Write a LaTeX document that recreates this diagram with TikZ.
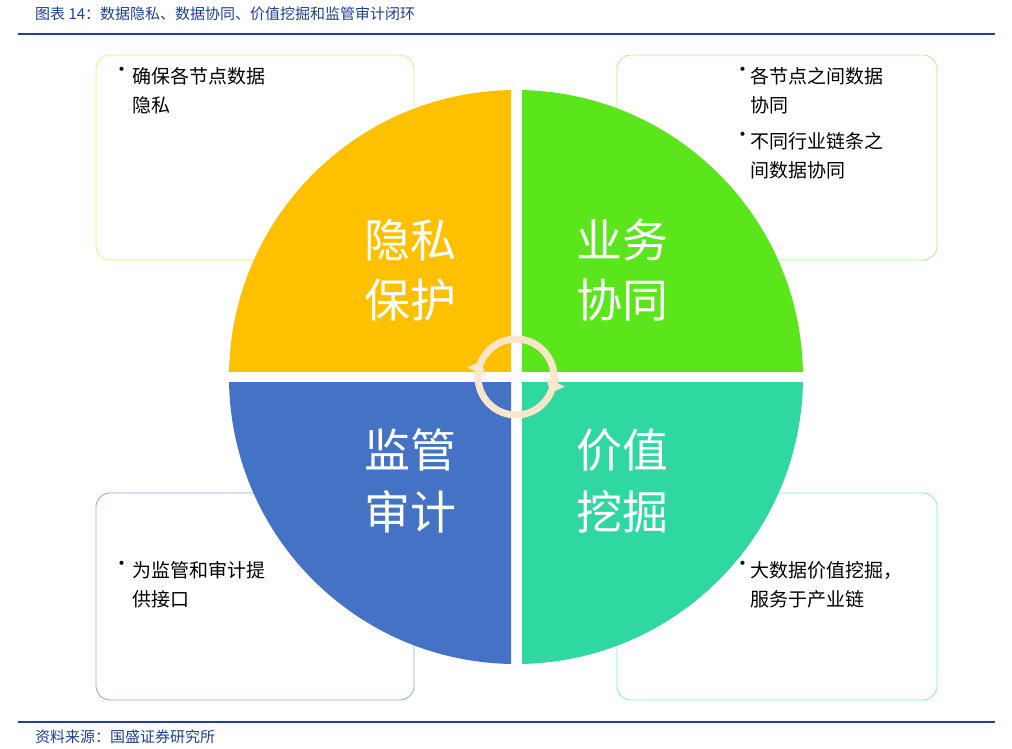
\documentclass[tikz,border=0pt]{standalone}
\usepackage{fontspec}
\setmainfont{Noto Sans CJK SC}
\newfontfamily\slfont[AutoFakeSlant=0.2]{Noto Sans CJK SC}
\usetikzlibrary{arrows.meta,calc}
\definecolor{qy}{HTML}{FFC000}
\definecolor{qg}{HTML}{5BE61C}
\definecolor{qb}{HTML}{4472C4}
\definecolor{qt}{HTML}{2ED8A0}
\definecolor{hd}{HTML}{1F3F8F}
\definecolor{ar}{HTML}{FBE5CB}
\tikzset{
 box/.style={rounded corners=14pt,line width=0.8pt,fill=white},
 big/.style={text=white,font=\fontsize{46}{50}\selectfont,inner sep=0},
 bul/.style={anchor=north west,align=left,font=\fontsize{19}{29}\selectfont,inner sep=0},
 arr/.style={ar,line width=7pt,-{Triangle[length=12pt,width=20pt]}}
}
\begin{document}
\begin{tikzpicture}[x=1pt,y=-1pt]
\useasboundingbox (0,0) rectangle (1012,748);
\node[anchor=west,text=hd,font=\slfont\fontsize{15}{18}\selectfont,inner sep=0] (title) at (35,14) {图表 14：数据隐私、数据协同、价值挖掘和监管审计闭环};
\draw[hd,line width=2.5pt] (18,34) -- (995,34);
\draw[hd,line width=2.5pt] (18,722) -- (995,722);
\node[anchor=west,text=hd,font=\slfont\fontsize{15}{18}\selectfont,inner sep=0] (src) at (35,737) {资料来源：国盛证券研究所};
% boxes
\draw[box,draw=qy!50] (96,55) rectangle (414,260);
\draw[box,draw=qg!50] (617,55) rectangle (937,260);
\draw[box,draw=qb!60] (96,493) rectangle (414,700);
\draw[box,draw=qt!55] (617,493) rectangle (937,700);
% quadrants
\begin{scope}\clip (0,0) rectangle (511,371);\fill[qy] (516,377) circle (287);\end{scope}
\begin{scope}\clip (522,0) rectangle (1012,371);\fill[qg] (516,377) circle (287);\end{scope}
\begin{scope}\clip (0,382) rectangle (511,748);\fill[qb] (516,377) circle (287);\end{scope}
\begin{scope}\clip (522,382) rectangle (1012,748);\fill[qt] (516,377) circle (287);\end{scope}
% arrows
\coordinate (cc) at (516,377);
\draw[arr] ($(cc)+(-160:38)$) arc[start angle=-160,end angle=25,radius=38];
\draw[arr] ($(cc)+(20:38)$) arc[start angle=20,end angle=205,radius=38];
% big text
\node[big] (a1) at (410,240) {隐私};
\node[big] (a2) at (410,300) {保护};
\node[big] (b1) at (622,240) {业务};
\node[big] (b2) at (622,300) {协同};
\node[big] (c1) at (410,450) {监管};
\node[big] (c2) at (410,512) {审计};
\node[big] (d1) at (622,450) {价值};
\node[big] (d2) at (622,512) {挖掘};
% bullets
\node[bul] (t1b) at (112,67) {•};
\node[bul] (t1) at (132,67) {确保各节点数据\\隐私};
\node[bul] (t2b) at (733,67) {•};
\node[bul] (t2) at (750,67) {各节点之间数据\\协同};
\node[bul] (t3b) at (733,132) {•};
\node[bul] (t3) at (750,132) {不同行业链条之\\间数据协同};
\node[bul] (t4b) at (112,561) {•};
\node[bul] (t4) at (132,561) {为监管和审计提\\供接口};
\node[bul] (t5b) at (733,561) {•};
\node[bul] (t5) at (750,561) {大数据价值挖掘，\\服务于产业链};
\end{tikzpicture}
\end{document}
